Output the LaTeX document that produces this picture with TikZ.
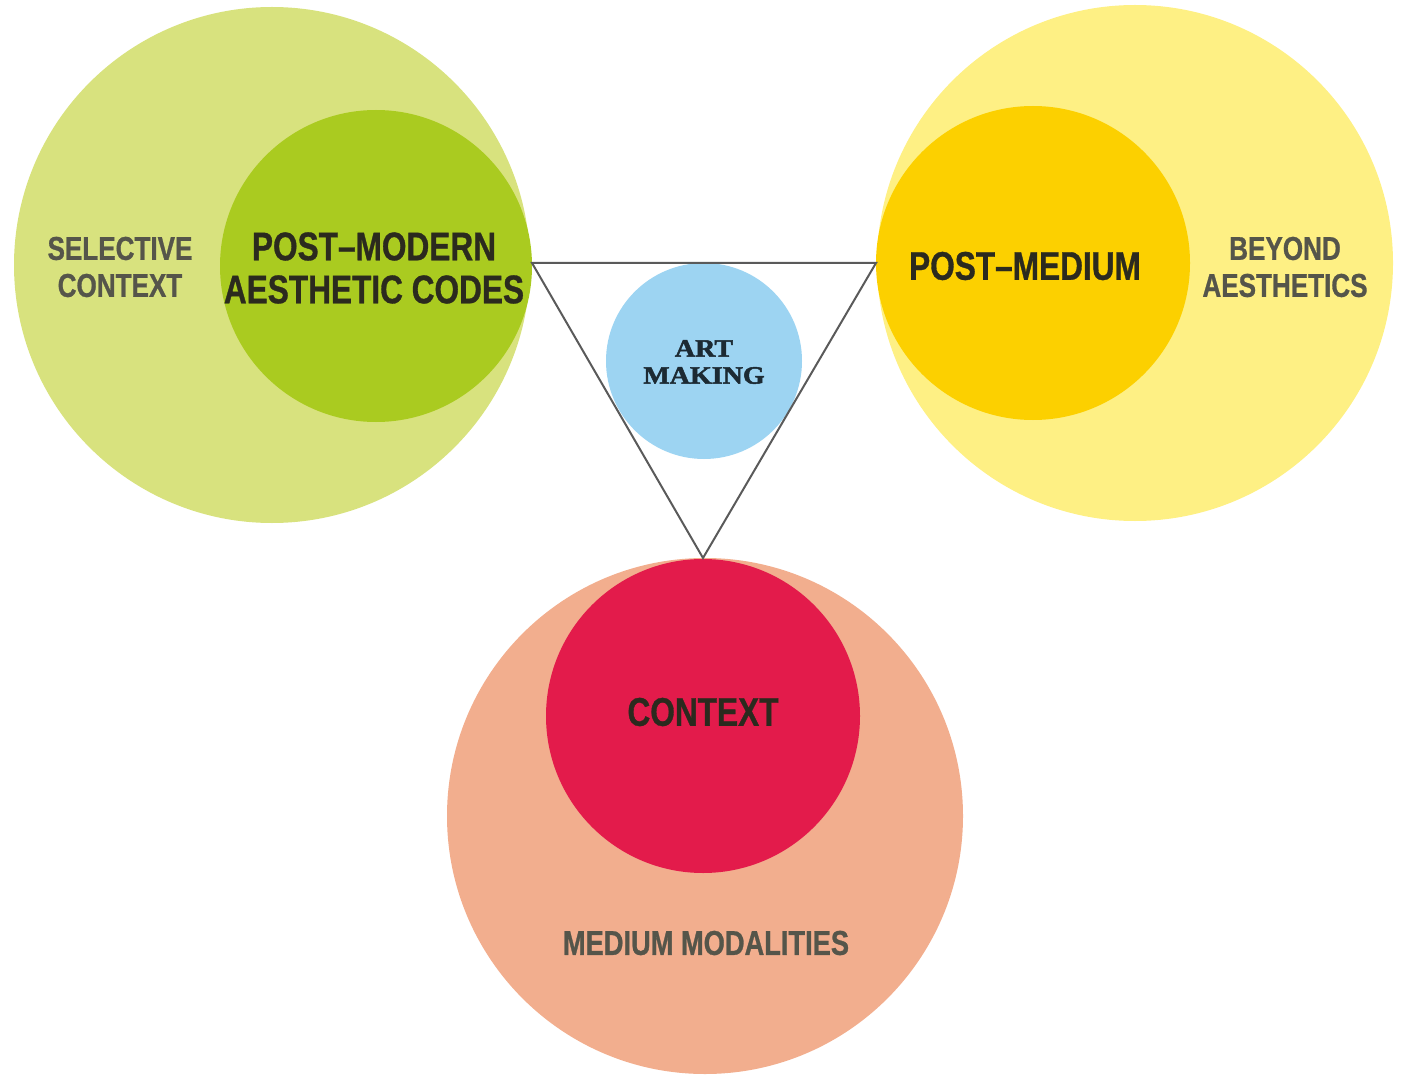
\documentclass[tikz,border=0pt]{standalone}
\usepackage{fontspec}
\newfontfamily\condfont{Liberation Sans Bold}[FakeStretch=0.79,FakeBold=0.8]
\newfontfamily\artfont{Liberation Serif Bold}[FakeStretch=1.12,FakeBold=2]
\definecolor{lgreenout}{HTML}{D8E27E}
\definecolor{lgreenin}{HTML}{AACB20}
\definecolor{yellowout}{HTML}{FEF084}
\definecolor{yellowin}{HTML}{FCD000}
\definecolor{salmonout}{HTML}{F2AE8E}
\definecolor{redin}{HTML}{E31B4B}
\definecolor{skyblue}{HTML}{9DD4F2}
\definecolor{innertext}{HTML}{2B2A1E}
\definecolor{outertext}{HTML}{55554A}
\definecolor{linegray}{HTML}{5A5A5A}
\definecolor{arttext}{HTML}{1C2A33}
\begin{document}
\begin{tikzpicture}[x=1pt,y=-1pt,
  disc/.style={circle, inner sep=0pt, draw=none, minimum size=#1},
  innerlabel/.style={font=\condfont\fontsize{40}{43}\selectfont, text=innertext, align=center, inner sep=0pt},
  outerlabel/.style={font=\condfont\fontsize{33}{37}\selectfont, text=outertext, align=center, inner sep=0pt},
  artlabel/.style={font=\artfont\fontsize{25}{27}\selectfont, text=arttext, align=center, inner sep=0pt},
  triline/.style={draw=linegray, line width=2pt, line join=miter}]
\useasboundingbox (0,0) rectangle (1411,1075);
% left group
\node[disc=516pt, fill=lgreenout] (lout) at (272,265) {};
\node[disc=312pt, fill=lgreenin] (lin) at (376,266) {};
% right group
\node[disc=516pt, fill=yellowout] (rout) at (1135,263) {};
\node[disc=314pt, fill=yellowin] (rin) at (1033,263) {};
% bottom group
\node[disc=516pt, fill=salmonout] (bout) at (705,816) {};
\node[disc=314pt, fill=redin] (bin) at (703,716) {};
% centre
\node[disc=196pt, fill=skyblue] (art) at (704,361) {};
% triangle
\coordinate (t1) at (532,263);
\coordinate (t2) at (876,263);
\coordinate (t3) at (703,558);
\draw[triline] (t1) -- (t2) -- (t3) -- cycle;
% labels
\node[outerlabel] (selctx) at (120,267) {SELECTIVE\\CONTEXT};
\node[innerlabel] (pmac) at (374,268) {POST–MODERN\\AESTHETIC CODES};
\node[innerlabel] (pmed) at (1025,266) {POST–MEDIUM};
\node[outerlabel] (beyond) at (1285,267) {BEYOND\\AESTHETICS};
\node[innerlabel] (ctx) at (703,712) {CONTEXT};
\node[outerlabel, font=\condfont\fontsize{34.5}{37}\selectfont] (medmod) at (706,943) {MEDIUM MODALITIES};
\node[artlabel] (artlbl) at (704,362) {ART\\MAKING};
\end{tikzpicture}
\end{document}
